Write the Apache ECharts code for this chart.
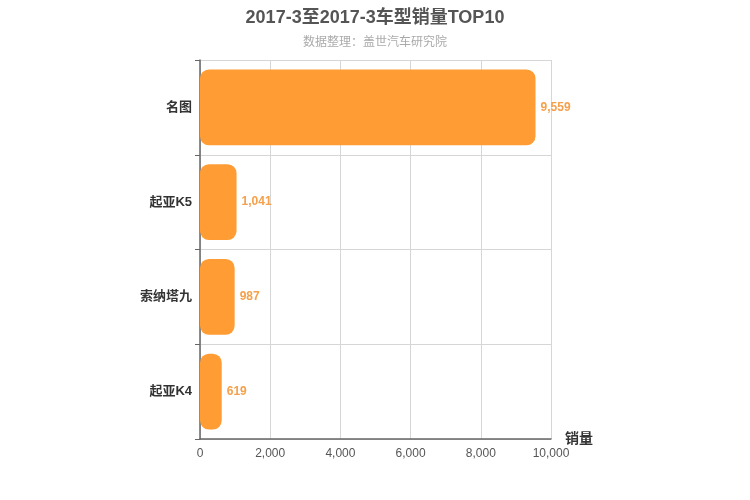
<!DOCTYPE html>
<html>
<head>
<meta charset="utf-8">
<script src="https://cdn.jsdelivr.net/npm/echarts@6/dist/echarts.min.js"></script>
<style>html,body{margin:0;padding:0;background:#fff;}#c{width:750px;height:500px;}</style>
</head>
<body>
<div id="c"></div>
<script>
var categories = ['名图', '起亚K5', '索纳塔九', '起亚K4'];
var sales = [9559, 1041, 987, 619];
var xTicks = [0, 2000, 4000, 6000, 8000, 10000];

var FF = '"Liberation Sans", Arial, "Noto Sans CJK SC", sans-serif';
var chart = echarts.init(document.getElementById('c'), null, {renderer: 'canvas'});
chart.setOption({
  backgroundColor: '#fff',
  animation: false,
  title: {
    text: '2017-3至2017-3车型销量TOP10',
    subtext: '数据整理：盖世汽车研究院',
    left: 'center',
    top: 4,
    itemGap: 10,
    textStyle: {fontSize: 18, fontWeight: 'bold', color: '#555', fontFamily: FF},
    subtextStyle: {fontSize: 12, color: '#aaa', fontFamily: FF}
  },
  grid: {left: 200, right: 199, top: 60, bottom: 61, containLabel: false},
  xAxis: {
    type: 'value',
    min: xTicks[0],
    max: xTicks[xTicks.length - 1],
    interval: 2000,
    name: '销量',
    nameLocation: 'end',
    nameGap: 14,
    nameTextStyle: {fontSize: 14, fontWeight: 'bold', color: '#333', fontFamily: FF},
    axisLine: {show: true, lineStyle: {color: '#666', width: 1.5}},
    axisTick: {show: false},
    axisLabel: {color: '#555', fontSize: 12, margin: 9, fontFamily: FF, formatter: function (v) { return v.toLocaleString('en-US'); }},
    splitLine: {show: true, lineStyle: {color: '#d6d6d6'}}
  },
  yAxis: {
    type: 'category',
    data: categories,
    inverse: true,
    axisLine: {show: true, lineStyle: {color: '#666', width: 1.5}},
    axisTick: {show: true, length: 5, lineStyle: {color: '#666'}},
    axisLabel: {color: '#333', fontSize: 13, fontWeight: 'bold', margin: 8, fontFamily: FF},
    splitLine: {show: true, lineStyle: {color: '#d6d6d6'}}
  },
  series: [{
    type: 'bar',
    data: sales,
    barCategoryGap: '20%',
    itemStyle: {color: '#ff9c33', borderRadius: 9},
    label: {
      show: true,
      position: 'right',
      distance: 5,
      color: '#f5a04a',
      fontSize: 12,
      fontWeight: 'bold',
      fontFamily: FF,
      formatter: function (p) { return p.value.toLocaleString('en-US'); }
    }
  }]
});
</script>
</body>
</html>
